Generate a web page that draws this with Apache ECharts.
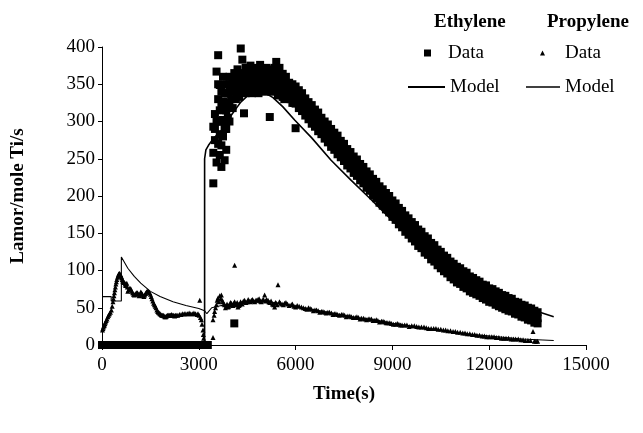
<!DOCTYPE html>
<html>
<head>
<meta charset="utf-8">
<script src="https://cdn.jsdelivr.net/npm/echarts@6/dist/echarts.min.js"></script>
<style>
html,body{margin:0;padding:0;background:#fff;}
#chart{width:643px;height:433px;}
</style>
</head>
<body>
<div id="chart"></div>
<script>
// ---- data ----
const legendHeaders = ['Ethylene', 'Propylene'];
const xTitle = 'Time(s)';
const yTitle = 'Lamor/mole Ti/s';

// Ethylene data (time s, rate)
const ethyleneData = [
[0,0],[100,0],[200,0],[300,0],[400,0],[500,0],[600,0],[700,0],[800,0],[900,0],[1000,0],[1100,0],[1200,0],[1300,0],[1400,0],[1500,0],[1600,0],[1700,0],[1800,0],[1900,0],[2000,0],[2100,0],[2200,0],[2300,0],[2400,0],[2500,0],[2600,0],[2700,0],[2800,0],[2900,0],[3000,0],[3100,0],[3200,0],[3280,0],
[3450,217],[3450,258],[3450,293],[3500,275],[3500,310],[3500,290],[3550,367],[3550,300],[3550,245],[3600,389],[3600,330],[3600,270],[3600,300],[3600,350],[3650,349],[3650,283],[3650,255],[3650,315],[3700,268],[3700,320],[3700,239],[3700,300],[3700,340],[3750,302],[3750,327],[3750,360],[3750,280],[3800,248],[3800,338],[3800,290],[3800,320],[3850,262],[3850,315],[3850,350],[3850,290],[3900,338],[3900,305],[3900,320],[3950,360],[3950,325],[3950,345],[3950,300],[4000,330],[4000,350],
[4050,340],[4050,355],[4050,318],[4100,29],[4100,365],[4100,345],[4150,345],[4150,330],[4150,360],[4200,370],[4200,350],[4200,335],[4250,333],[4250,360],[4250,348],[4300,398],[4300,355],[4300,340],[4350,383],[4350,345],[4350,362],[4400,311],[4400,365],[4400,350],[4450,350],[4450,338],[4450,372],[4500,370],[4500,345],[4500,358],[4550,340],[4550,365],[4600,345],[4600,360],[4600,375],[4650,352],[4650,338],[4700,369],[4700,340],[4700,355],[4750,345],[4750,365],[4800,358],[4800,345],[4800,372],[4850,350],[4850,338],[4900,376],[4900,350],[4900,362],[4950,345],[4950,370],[5000,365],[5000,342],[5000,352],[5050,362],[5050,340],[5100,355],[5100,372],[5100,345],[5150,365],[5150,350],[5200,306],[5200,360],[5200,348],[5250,370],[5250,340],[5300,348],[5300,368],[5300,358],[5350,345],[5350,372],[5400,356],[5400,380],[5400,366],[5450,350],[5450,335],[5500,345],[5500,362],[5500,372],[5550,355],[5550,340],[5600,333],[5600,364],[5600,350],[5650,345],[5650,330],[5700,350],[5700,340],[5700,360],[5750,338],[5750,350],[5800,352],[5800,332],[5800,342],[5850,345],[5850,330],[5900,340],[5900,325],[5900,350],[5950,338],[5950,325],
[6000,291],[6000,347],[6000,335],[6000,324],[6100,342],[6100,331],[6100,318],[6200,338],[6200,324],[6200,314],[6300,331],[6300,320],[6300,308],[6400,326],[6400,313],[6400,303],[6500,322],[6500,310],[6500,297],[6600,316],[6600,303],[6600,293],[6700,312],[6700,300],[6700,287],[6800,305],[6800,292],[6800,283],[6900,300],[6900,289],[6900,277],[7000,296],[7000,282],[7000,272],[7100,290],[7100,279],[7100,266],[7200,285],[7200,272],[7200,262],[7300,281],[7300,268],[7300,256],[7400,274],[7400,263],[7400,252],[7500,270],[7500,256],[7500,247],[7600,263],[7600,253],[7600,241],[7700,259],[7700,246],[7700,237],[7800,253],[7800,243],[7800,231],[7900,249],[7900,236],[7900,227],[8000,243],[8000,233],[8000,221],[8100,239],[8100,226],[8100,217],[8200,233],[8200,223],[8200,211],[8300,229],[8300,216],[8300,207],[8400,223],[8400,213],[8400,201],[8500,219],[8500,206],[8500,197],[8600,213],[8600,203],[8600,191],[8700,209],[8700,196],[8700,187],[8800,204],[8800,194],[8800,182],[8900,200],[8900,187],[8900,178],[9000,194],[9000,184],[9000,172],[9100,190],[9100,177],[9100,168],[9200,184],[9200,174],[9200,162],[9300,180],[9300,167],[9300,158],[9400,174],[9400,164],[9400,152],[9500,170],[9500,157],[9500,148],[9600,165],[9600,155],[9600,143],[9700,161],[9700,148],[9700,139],[9800,155],[9800,145],[9800,133],[9900,152],[9900,139],[9900,130],[10000,146],[10000,136],[10000,124],[10100,143],[10100,130],[10100,121],[10200,137],[10200,127],[10200,115],[10300,134],[10300,121],[10300,112],[10400,128],[10400,119],[10400,107],[10500,125],[10500,112],[10500,103],[10600,120],[10600,111],[10600,99],[10700,117],[10700,105],[10700,96],[10800,112],[10800,103],[10800,91],[10900,109],[10900,97],[10900,88],[11000,105],[11000,96],[11000,84],[11100,103],[11100,91],[11100,82],[11200,99],[11200,90],[11200,78],[11300,97],[11300,85],[11300,76],[11400,92],[11400,84],[11400,72],[11500,90],[11500,79],[11500,70],[11600,87],[11600,79],[11600,68],[11700,85],[11700,74],[11700,66],[11800,81],[11800,74],[11800,63],[11900,80],[11900,69],[11900,61],[12000,76],[12000,69],[12000,58],[12100,75],[12100,65],[12100,57],[12200,72],[12200,65],[12200,54],[12300,70],[12300,60],[12300,52],[12400,67],[12400,60],[12400,50],[12500,66],[12500,56],[12500,48],[12600,63],[12600,56],[12600,46],[12700,62],[12700,52],[12700,45],[12800,58],[12800,52],[12800,42],[12900,57],[12900,48],[12900,41],[13000,54],[13000,48],[13000,38],[13100,53],[13100,44],[13100,37],[13200,50],[13200,44],[13200,34],[13300,49],[13300,40],[13300,33],[13400,46],[13400,40],[13400,30],[13500,44],[13500,36],[13500,29]
];

// Propylene data (time s, rate)
const propyleneData = [
[15,20],[30,22],[45,24],[60,26],[75,27],[90,29],[110,31],[130,33],[155,35],[180,38],[205,40],[230,42],[260,44],[290,47],[315,52],[340,58],[355,62],[370,66],[385,70],[400,74],[415,78],[430,82],[445,85],[460,88],[480,91],[500,93],[515,95],[530,96],[545,96],[560,95],[580,94],[600,92],[615,90],[630,88],[645,86],[660,85],[680,84],[700,84],[715,82],[730,80],[750,82],[770,83],[785,78],[800,72],[825,74],[850,76],[875,76],[900,75],[925,72],[950,70],[975,68],[1000,67],[1025,68],[1050,69],[1075,70],[1100,70],[1125,68],[1150,66],[1175,68],[1200,71],[1225,70],[1250,68],[1275,66],[1300,65],[1325,67],[1350,69],[1375,71],[1400,72],[1425,72],[1450,71],[1475,70],[1500,68],[1525,65],[1550,62],[1575,59],[1600,56],[1625,54],[1650,52],[1675,50],[1700,47],[1725,45],[1750,44],[1775,43],[1800,42],[1825,41],[1850,40],[1875,40],[1900,40],[1925,39],[1950,38],[1975,38],[2000,39],[2025,40],[2050,40],[2075,40],[2100,40],[2125,40],[2150,41],[2175,40],[2200,40],[2225,40],[2250,39],[2275,40],[2300,40],[2350,40],[2400,41],[2450,41],[2500,42],[2550,42],[2600,42],[2650,42],[2700,43],[2750,42],[2800,42],[2850,43],[2900,42],[2950,41],[2975,42],[3010,40],[3030,60],[3050,37],[3080,34],[3100,28],[3130,20],[3140,14],[3150,9],[3170,4],[3200,2],
[3440,10],[3440,34],[3475,40],[3490,45],[3520,50],[3545,54],[3570,60],[3595,63],[3620,58],[3650,66],[3680,62],[3700,67],[3725,60],[3750,58],[3775,55],[3800,54],[3825,50],[3850,52],[3875,55],[3905,51],[3930,52],[3950,54],[3980,57],[4010,56],[4035,54],[4060,53],[4085,56],[4110,58],[4110,107],[4135,54],[4160,55],[4190,57],[4215,51],[4240,53],[4270,54],[4295,58],[4320,56],[4345,55],[4370,58],[4395,59],[4420,60],[4460,57],[4500,58],[4530,61],[4560,59],[4600,58],[4630,60],[4665,61],[4700,59],[4735,58],[4770,60],[4800,60],[4835,61],[4870,62],[4900,59],[4935,58],[4970,60],[5005,61],[5040,67],[5070,59],[5100,61],[5145,60],[5170,58],[5200,57],[5240,59],[5280,55],[5315,54],[5350,51],[5375,57],[5400,56],[5430,54],[5455,81],[5500,58],[5530,56],[5580,55],[5620,54],[5660,56],[5700,57],[5750,55],[5800,53],[5865,54],[5900,55],[5950,52],[6000,51],[6050,53],[6110,52],[6180,51],[6240,50],[6300,49],[6350,48],[6400,50],[6450,49],[6490,48],[6550,46],[6600,47],[6650,47],[6700,46],[6750,44],[6800,45],[6850,45],[6900,44],[6950,43],[7000,44],[7050,44],[7110,43],[7160,41],[7200,42],[7250,42],[7300,41],[7360,40],[7420,41],[7470,41],[7520,40],[7570,38],[7620,39],[7680,39],[7730,38],[7790,37],[7850,37],[7900,38],[7950,37],[8000,35],[8040,36],[8100,36],[8150,35],[8200,34],[8250,35],[8300,35],[8350,35],[8400,33],[8450,33],[8500,34],[8550,33],[8600,31],[8660,32],[8710,32],[8760,31],[8810,30],[8860,30],[8920,30],[8970,29],[9030,28],[9100,28],[9150,29],[9200,28],[9250,27],[9300,27],[9380,27],[9450,27],[9520,25],[9600,26],[9680,26],[9750,25],[9820,24],[9900,24],[9980,24],[10050,23],[10120,22],[10200,22],[10280,22],[10350,22],[10420,21],[10500,21],[10580,20],[10650,20],[10720,19],[10800,19],[10880,18],[10950,18],[11020,17],[11100,17],[11180,16],[11250,16],[11320,15],[11400,15],[11480,14],[11550,14],[11620,13],[11700,13],[11780,12],[11850,12],[11920,11],[12000,11],[12080,11],[12150,11],[12220,10],[12300,10],[12380,9],[12450,9],[12520,9],[12600,9],[12680,8],[12750,8],[12820,8],[12900,8],[12980,7],[13050,7],[13120,6],[13200,6],[13280,6],[13357,18],[13400,5],[13450,5],[13500,5]
];

// Ethylene model curve
const ethyleneModel = [
[0,0],[3180,0],[3180,250],[3220,262],[3300,268],[3450,277],[3700,288],[4000,308],[4300,326],[4600,338],[4800,342],[5000,340],[5300,332],[5600,320],[5970,302],[6500,278],[7100,248],[7700,222],[8250,199],[9070,164],[9500,148],[10000,130],[10500,113],[11000,98],[11500,85],[12000,73],[12500,62],[13000,53],[13500,45],[14000,38]
];

// Propylene model curve
const propyleneModel = [
[0,65],[285,65],[285,59],[600,59],[600,118],[800,103],[1000,92],[1200,83],[1500,72],[1800,65],[2200,58],[2600,53],[3000,49],[3180,46],[3250,42],[3400,50],[3700,53],[4000,55],[4500,58],[5000,59],[5500,56],[6000,52],[6500,48],[7000,44],[7500,40],[8000,36],[8500,33],[9000,29],[9500,26],[10000,23],[10500,20],[11000,17],[11500,14],[12000,12],[12500,10],[13000,8],[13500,7],[14000,6]
];

// ---- chart ----
const FONT = '"Liberation Serif","Times New Roman",serif';
const chart = echarts.init(document.getElementById('chart'), null, {renderer: 'canvas'});

const legendText = {fontFamily: FONT, fontSize: 19, color: '#000', lineHeight: 20};
const headerStyle = {fontFamily: FONT, fontSize: 19, fontWeight: 'bold', color: '#000'};

const option = {
  backgroundColor: '#fff',
  animation: false,
  textStyle: {fontFamily: FONT, color: '#000'},
  grid: {left: 102, right: 57, top: 47, bottom: 88},
  title: [
    {text: legendHeaders[0], left: 434, top: 13, padding: 0, textStyle: headerStyle},
    {text: legendHeaders[1], left: 547, top: 13, padding: 0, textStyle: headerStyle}
  ],
  legend: [
    {data: [{name: 'Ethylene Data', icon: 'rect'}], left: 424, top: 43, padding: 0,
     itemWidth: 7, itemHeight: 7, selectedMode: false,
     formatter: () => '{t|Data}',
     textStyle: Object.assign({rich: {t: {fontFamily: FONT, fontSize: 19, color: '#000', padding: [0, 0, 0, 12]}}}, legendText)},
    {data: [{name: 'Ethylene Model', icon: 'rect'}], left: 408, top: 77, padding: 0,
     itemWidth: 37, itemHeight: 1.8, selectedMode: false,
     formatter: () => 'Model', textStyle: legendText},
    {data: [{name: 'Propylene Data', icon: 'triangle'}], left: 540, top: 43, padding: 0,
     itemWidth: 5, itemHeight: 5, selectedMode: false,
     formatter: () => '{t|Data}',
     textStyle: Object.assign({rich: {t: {fontFamily: FONT, fontSize: 19, color: '#000', padding: [0, 0, 0, 15]}}}, legendText)},
    {data: [{name: 'Propylene Model', icon: 'rect'}], left: 526, top: 77, padding: 0,
     itemWidth: 34, itemHeight: 1.3, selectedMode: false,
     formatter: () => 'Model', textStyle: legendText}
  ],
  xAxis: {
    type: 'value', min: 0, max: 15000, interval: 3000,
    name: xTitle, nameLocation: 'middle', nameGap: 40,
    nameTextStyle: headerStyle,
    axisLine: {show: true, lineStyle: {color: '#000', width: 1}},
    axisTick: {show: true, inside: false, length: 5, lineStyle: {color: '#000'}},
    axisLabel: {fontFamily: FONT, fontSize: 19, color: '#000', margin: 11, formatter: v => String(v)},
    splitLine: {show: false}
  },
  yAxis: {
    type: 'value', min: 0, max: 400, interval: 50,
    name: yTitle, nameLocation: 'middle', nameGap: 74, nameRotate: 90,
    nameTextStyle: headerStyle,
    axisLine: {show: true, lineStyle: {color: '#000', width: 1}},
    axisTick: {show: true, inside: false, length: 4, lineStyle: {color: '#000'}},
    axisLabel: {fontFamily: FONT, fontSize: 19, color: '#000', margin: 7, formatter: v => String(v)},
    splitLine: {show: false}
  },
  series: [
    {name: 'Ethylene Data', type: 'scatter', data: ethyleneData, symbol: 'rect', symbolSize: 8,
     itemStyle: {color: '#000', opacity: 1}, z: 3},
    {name: 'Propylene Data', type: 'scatter', data: propyleneData, symbol: 'triangle', symbolSize: 5,
     itemStyle: {color: '#000', opacity: 1}, z: 3},
    {name: 'Ethylene Model', type: 'line', data: ethyleneModel, symbol: 'none', showSymbol: false,
     lineStyle: {color: '#000', width: 1.6}, itemStyle: {color: '#000'}, z: 4},
    {name: 'Propylene Model', type: 'line', data: propyleneModel, symbol: 'none', showSymbol: false,
     lineStyle: {color: '#000', width: 1.1}, itemStyle: {color: '#000'}, z: 4}
  ]
};
chart.setOption(option);
</script>
</body>
</html>
